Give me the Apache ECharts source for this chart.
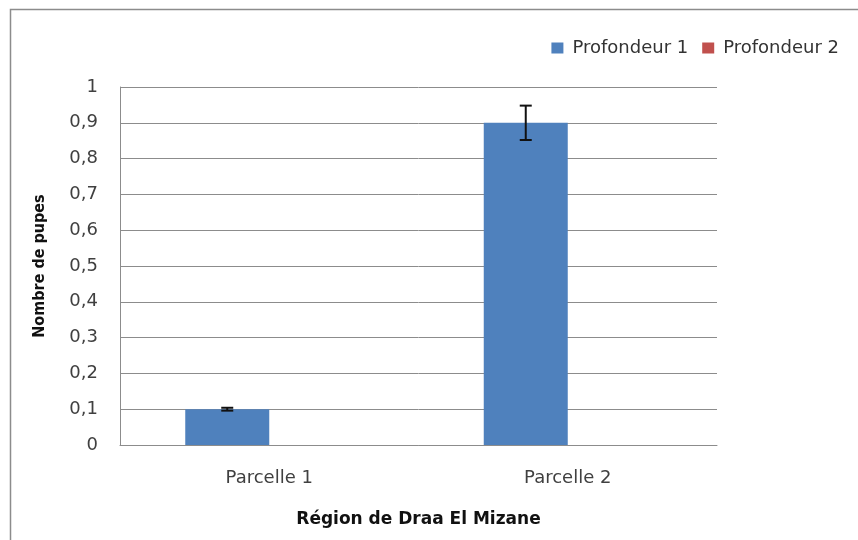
<!DOCTYPE html>
<html>
<head>
<meta charset="utf-8">
<script src="https://cdn.jsdelivr.net/npm/echarts@6/dist/echarts.min.js"></script>
<style>
  html, body { margin: 0; padding: 0; background: #fff; }
  #main { width: 858px; height: 540px; }
</style>
</head>
<body>
<div id="main"></div>
<script>
// données
var categories = ['Parcelle 1', 'Parcelle 2'];
var profondeur1 = [0.1, 0.9];
var profondeur2 = [0, 0];
var erreur1 = [0.004, 0.048];
var yTicks = [0, 0.1, 0.2, 0.3, 0.4, 0.5, 0.6, 0.7, 0.8, 0.9, 1];

var chart = echarts.init(document.getElementById('main'));

var option = {
  animation: false,
  textStyle: { fontFamily: 'DejaVu Sans' },
  graphic: [{
    type: 'rect',
    shape: { x: 10.5, y: 9.5, width: 860, height: 540 },
    style: { fill: 'none', stroke: '#8c8c8c', lineWidth: 1.5 },
    silent: true
  }],
  legend: {
    top: 34,
    right: 14,
    itemWidth: 12,
    itemHeight: 11,
    itemGap: 14,
    icon: 'rect',
    textStyle: { fontSize: 18, color: '#333', fontFamily: 'DejaVu Sans', padding: [0, 0, 0, 4] },
    data: ['Profondeur 1', 'Profondeur 2']
  },
  grid: { left: 120, right: 141, top: 87, bottom: 95 },
  xAxis: {
    type: 'category',
    data: categories,
    name: 'Région de Draa El Mizane',
    nameLocation: 'middle',
    nameGap: 66,
    nameTextStyle: { fontSize: 17, fontWeight: 'bold', color: '#111', fontFamily: 'DejaVu Sans' },
    axisLine: { lineStyle: { color: '#8c8c8c', width: 1 } },
    axisTick: { show: false },
    axisLabel: { fontSize: 18, color: '#404040', margin: 24 }
  },
  yAxis: {
    type: 'value',
    min: 0,
    max: 1,
    interval: 0.1,
    name: 'Nombre de pupes',
    nameLocation: 'middle',
    nameGap: 72,
    nameRotate: 90,
    nameTextStyle: { fontSize: 16, fontWeight: 'bold', color: '#111', fontFamily: 'DejaVu Sans Condensed, DejaVu Sans' },
    axisLine: { show: true, lineStyle: { color: '#8c8c8c' } },
    axisTick: { show: false },
    splitLine: { lineStyle: { color: '#8c8c8c', width: 1 } },
    axisLabel: {
      fontSize: 18,
      color: '#404040',
      margin: 22,
      formatter: function (v) {
        var t = yTicks.find(function (k) { return Math.abs(k - v) < 1e-9; });
        return String(Math.round((t !== undefined ? t : v) * 10) / 10).replace('.', ',');
      }
    }
  },
  series: [
    {
      name: 'Profondeur 1',
      type: 'bar',
      data: profondeur1,
      barWidth: 84,
      barGap: '0%',
      itemStyle: { color: '#4F81BD' }
    },
    {
      name: 'Profondeur 2',
      type: 'bar',
      data: profondeur2,
      barWidth: 84,
      itemStyle: { color: '#C0504D' }
    },
    {
      // barres d'erreur de la profondeur 1
      type: 'custom',
      name: 'erreur',
      z: 10,
      data: profondeur1.map(function (v, i) { return [i, v - erreur1[i], v + erreur1[i]]; }),
      renderItem: function (params, api) {
        var lo = api.coord([api.value(0), api.value(1)]);
        var hi = api.coord([api.value(0), api.value(2)]);
        var x = lo[0] - 42;
        var half = 6;
        var st = { stroke: '#111', lineWidth: 2 };
        return {
          type: 'group',
          children: [
            { type: 'line', shape: { x1: x, y1: hi[1], x2: x, y2: lo[1] }, style: st },
            { type: 'line', shape: { x1: x - half, y1: hi[1], x2: x + half, y2: hi[1] }, style: st },
            { type: 'line', shape: { x1: x - half, y1: lo[1], x2: x + half, y2: lo[1] }, style: st }
          ]
        };
      },
      encode: { x: 0, y: [1, 2] },
      silent: true
    }
  ]
};

chart.setOption(option);
</script>
</body>
</html>
